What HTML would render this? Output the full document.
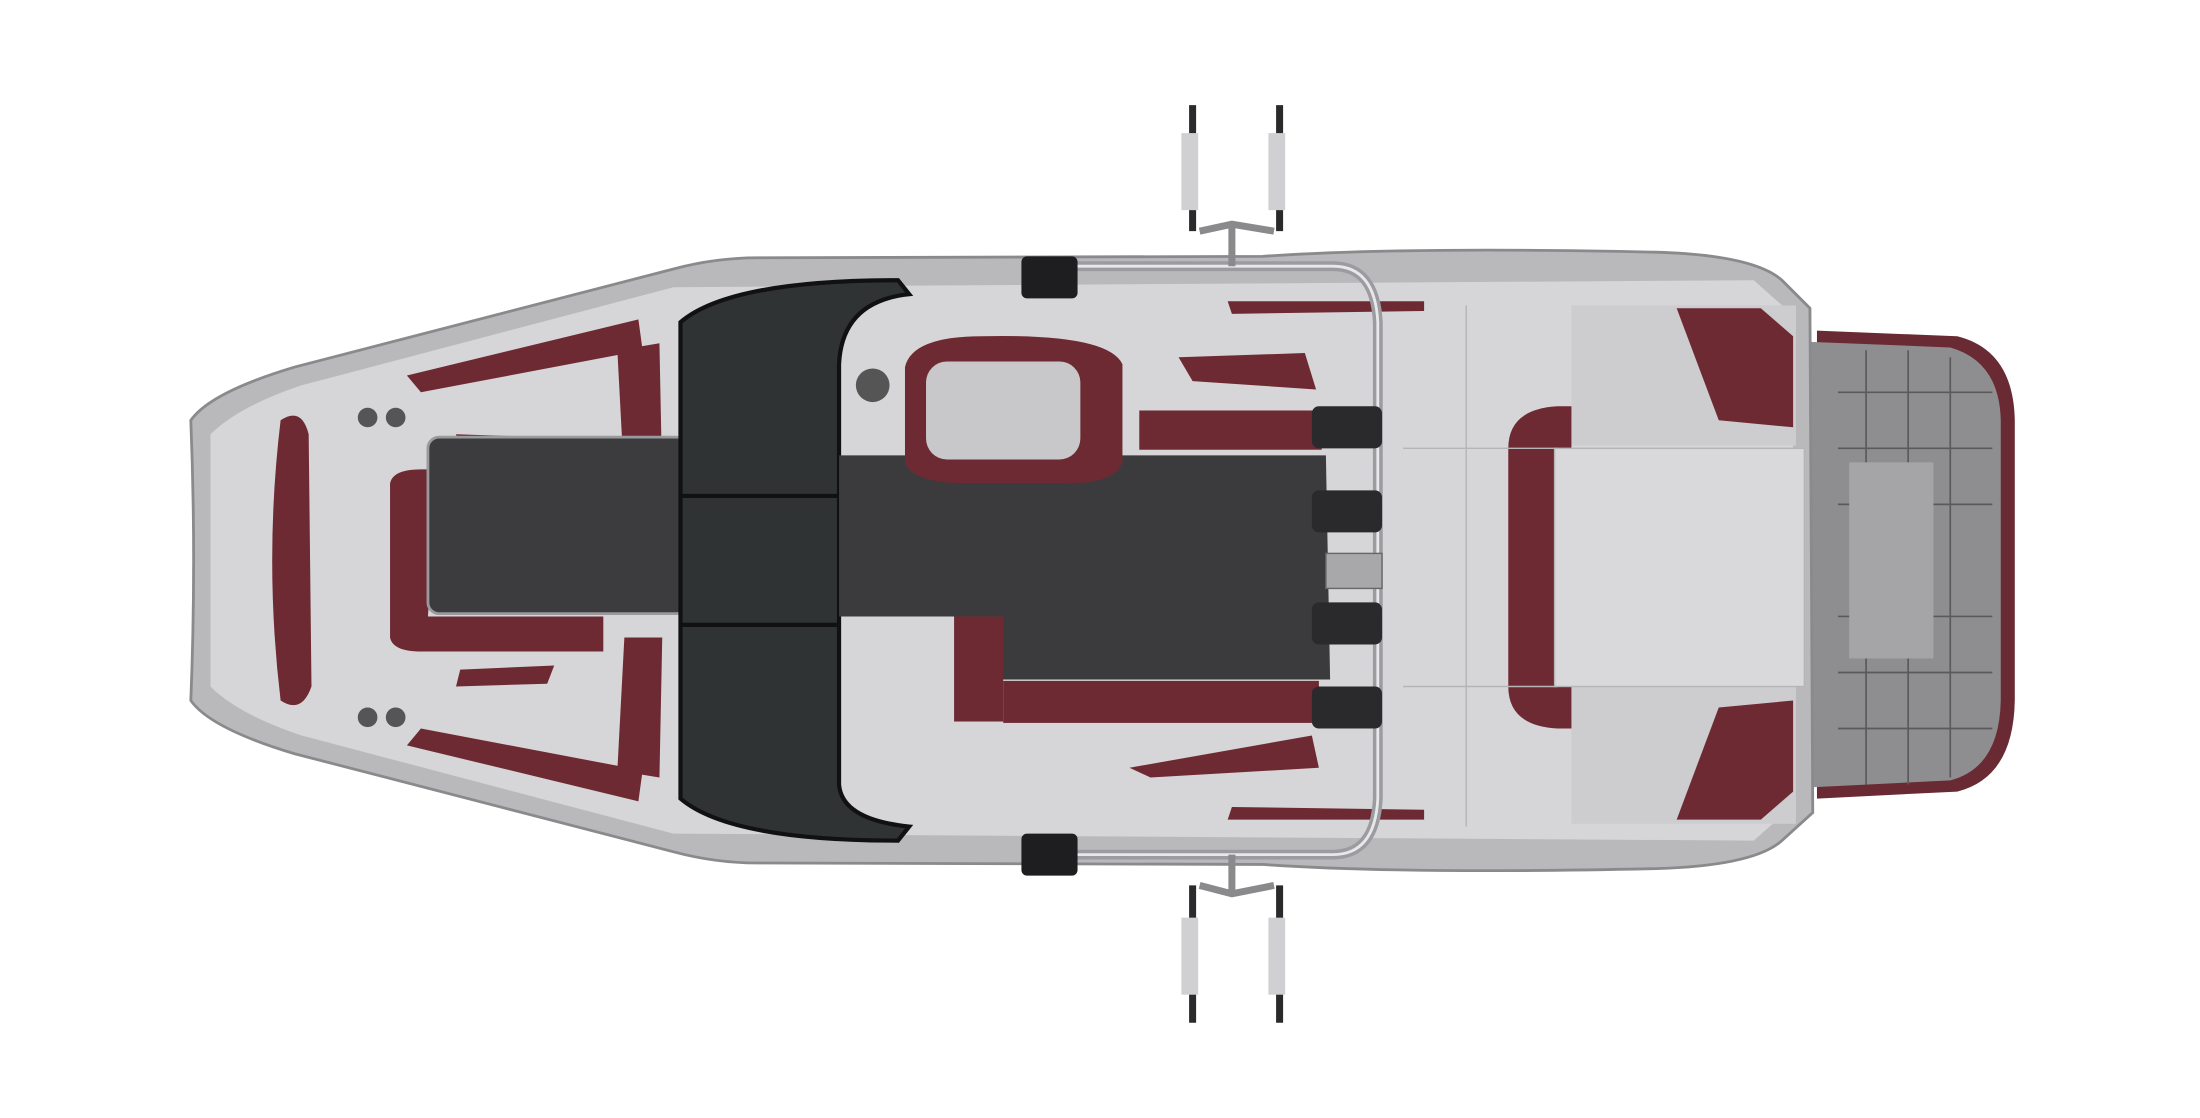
<!DOCTYPE html>
<html><head><meta charset="utf-8"><style>html,body{margin:0;padding:0;background:#fff;overflow:hidden}svg{display:block}</style></head>
<body>
<svg width="2200" height="1118" viewBox="0 0 1568 798" preserveAspectRatio="none" xmlns="http://www.w3.org/2000/svg">
<!-- swim platform -->
<path d="M1295 236 L1395 240 Q1435 250 1436 300 L1436 500 Q1435 555 1395 565 L1295 570 Z" fill="#6a2a33"/>
<path d="M1290 244 L1390 248 Q1425 258 1426 300 L1426 500 Q1425 548 1390 557 L1290 562 Z" fill="#8e8e90"/>
<g stroke="#5a5a5c" stroke-width="1.2" fill="none">
<path d="M1330 250 L1330 560 M1360 250 L1360 560 M1390 255 L1390 555 M1310 280 L1420 280 M1310 320 L1420 320 M1310 360 L1420 360 M1310 440 L1420 440 M1310 480 L1420 480 M1310 520 L1420 520"/>
</g>
<rect x="1318" y="330" width="60" height="140" fill="#a5a5a7"/>
<!-- hull -->
<path d="M136 300 Q150 280 210 262 L480 192 Q510 184 540 184 L900 183 Q1000 176 1180 180 Q1250 182 1270 200 L1290 220 L1292 580 L1270 600 Q1250 618 1180 620 Q1000 624 900 617 L540 616 Q510 616 480 608 L210 538 Q150 520 136 500 Q140 400 136 300 Z" fill="#b9b9bb" stroke="#8a8a8c" stroke-width="2"/>
<path d="M150 310 Q170 290 215 275 L480 205 L1250 200 L1278 225 L1278 575 L1250 600 L480 595 L215 525 Q170 510 150 490 Z" fill="#d6d6d8"/>
<!-- bow seating maroon -->
<path d="M200 300 Q215 290 220 310 L222 490 Q215 510 200 500 Q188 400 200 300Z" fill="#6e2a33"/>
<path d="M290 268 L455 228 L458 250 L300 280Z" fill="#6e2a33"/>
<path d="M290 532 L455 572 L458 550 L300 520Z" fill="#6e2a33"/>
<path d="M278 345 Q280 335 300 335 L430 335 L430 360 L310 360 L305 440 L430 440 L430 465 L300 465 Q280 465 278 455Z" fill="#6e2a33"/>
<path d="M440 250 L470 245 L472 345 L445 345Z" fill="#6e2a33"/>
<path d="M440 550 L470 555 L472 455 L445 455Z" fill="#6e2a33"/>
<path d="M325 310 L390 312 L395 325 L328 322Z" fill="#6e2a33"/>
<path d="M325 490 L390 488 L395 475 L328 478Z" fill="#6e2a33"/>
<!-- bow floor -->
<rect x="305" y="312" width="185" height="126" rx="8" fill="#3c3c3e" stroke="#9a9a9c" stroke-width="2"/>
<!-- windshield -->
<path d="M485 230 Q520 200 640 200 L648 210 Q600 215 598 260 L598 560 Q600 585 648 590 L640 600 Q520 600 485 570Z" fill="#2f3334" stroke="#111" stroke-width="3"/>
<line x1="485" y1="354" x2="598" y2="354" stroke="#111" stroke-width="3"/>
<line x1="485" y1="446" x2="598" y2="446" stroke="#111" stroke-width="3"/>
<!-- main cockpit floor -->
<path d="M598 325 L945 325 L948 485 L700 485 L700 440 L598 440Z" fill="#3b3b3d"/>
<!-- driver seat -->
<path d="M645 262 Q650 240 700 240 Q790 238 800 260 L800 330 Q795 345 760 345 L690 345 Q650 345 645 330Z" fill="#6e2a33"/>
<rect x="660" y="258" width="110" height="70" rx="15" fill="#c8c8ca"/>
<!-- right side seats -->
<rect x="812" y="293" width="130" height="28" fill="#6e2a33"/>
<path d="M840 255 L930 252 L938 278 L850 272Z" fill="#6e2a33"/>
<rect x="715" y="486" width="225" height="30" fill="#6e2a33"/>
<rect x="680" y="440" width="35" height="75" fill="#6e2a33"/>
<path d="M805 548 L935 525 L940 548 L820 555Z" fill="#6e2a33"/>
<path d="M875 215 L1015 215 L1015 222 L878 224Z" fill="#6e2a33"/>
<path d="M875 585 L1015 585 L1015 578 L878 576Z" fill="#6e2a33"/>
<!-- stern lounge -->
<rect x="1120" y="218" width="160" height="100" fill="#cdcdcf"/>
<rect x="1120" y="488" width="160" height="100" fill="#cdcdcf"/>
<path d="M1195 220 L1255 220 L1278 240 L1278 305 L1225 300Z" fill="#6e2a33"/>
<path d="M1195 585 L1255 585 L1278 565 L1278 500 L1225 505Z" fill="#6e2a33"/>
<path d="M1075 320 Q1075 292 1110 290 L1120 290 L1120 520 L1110 520 Q1075 518 1075 490Z" fill="#6e2a33"/>
<rect x="1108" y="320" width="178" height="170" fill="#d9d9db" stroke="#b5b5b7"/>
<line x1="1045" y1="218" x2="1045" y2="590" stroke="#b5b5b7"/>
<line x1="1000" y1="320" x2="1110" y2="320" stroke="#b5b5b7"/>
<line x1="1000" y1="490" x2="1110" y2="490" stroke="#b5b5b7"/>
<!-- tower -->
<path d="M745 200 Q745 190 765 190 L950 190 Q980 190 982 230 L982 570 Q980 610 950 610 L765 610 Q745 610 745 600" fill="none" stroke="#9c9ca0" stroke-width="7"/>
<path d="M745 200 Q745 190 765 190 L950 190 Q980 190 982 230 L982 570 Q980 610 950 610 L765 610 Q745 610 745 600" fill="none" stroke="#e8e8ea" stroke-width="2"/>
<rect x="945" y="395" width="40" height="25" fill="#a8a8aa" stroke="#666"/>
<g fill="#2a2a2c"><rect x="935" y="290" width="50" height="30" rx="5"/><rect x="935" y="350" width="50" height="30" rx="5"/><rect x="935" y="430" width="50" height="30" rx="5"/><rect x="935" y="490" width="50" height="30" rx="5"/></g>
<rect x="728" y="183" width="40" height="30" rx="4" fill="#1e1e20"/>
<rect x="728" y="595" width="40" height="30" rx="4" fill="#1e1e20"/>
<!-- board racks -->
<g fill="none" stroke="#2a2a2c" stroke-width="5">
<path d="M850 75 L850 165 M912 75 L912 165 M850 632 L850 730 M912 632 L912 730"/>
</g>
<g fill="#d0d0d2"><rect x="842" y="95" width="12" height="55"/><rect x="904" y="95" width="12" height="55"/><rect x="842" y="655" width="12" height="55"/><rect x="904" y="655" width="12" height="55"/></g>
<path d="M855 165 L878 160 L908 165 M878 160 L878 190 M855 632 L878 638 L908 632 M878 638 L878 610" fill="none" stroke="#8a8a8c" stroke-width="5"/>
<!-- speakers -->
<g fill="#555"><circle cx="262" cy="298" r="7"/><circle cx="282" cy="298" r="7"/><circle cx="262" cy="512" r="7"/><circle cx="282" cy="512" r="7"/><circle cx="622" cy="275" r="12"/></g>
</svg>
</body></html>
